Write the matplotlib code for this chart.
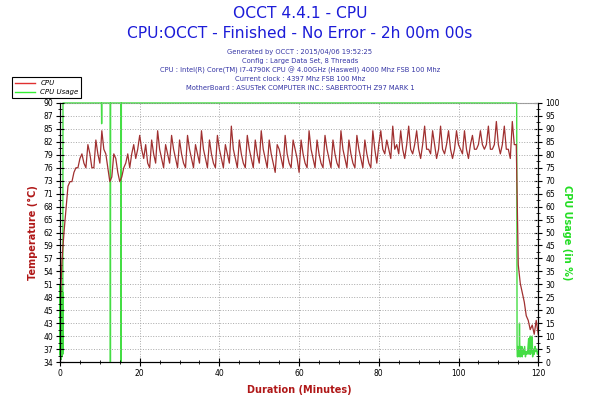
import numpy as np
import matplotlib
matplotlib.use("Agg")
import matplotlib.pyplot as plt
from matplotlib.lines import Line2D
from matplotlib.ticker import MultipleLocator, AutoMinorLocator

# temperature, one reading every half minute (0 .. 120 min)
temp_c = [
    45, 56, 62, 67, 72, 73, 73, 75, 76, 76, 78, 79, 77, 76, 81, 79, 76, 76, 82, 79,
    77, 84, 80, 79, 76, 73, 74, 79, 78, 75, 73, 74, 76, 77, 79, 76, 79, 81, 78, 80,
    83, 80, 78, 81, 77, 76, 82, 79, 77, 84, 80, 78, 76, 81, 79, 77, 83, 80, 78, 76,
    82, 79, 77, 76, 83, 80, 78, 76, 81, 79, 77, 84, 80, 78, 76, 82, 79, 77, 76, 83,
    80, 78, 76, 81, 79, 77, 85, 80, 78, 76, 82, 79, 77, 76, 83, 80, 78, 76, 82, 79,
    77, 84, 80, 78, 76, 82, 79, 77, 75, 81, 80, 78, 76, 83, 79, 77, 76, 82, 80, 78,
    75, 82, 79, 77, 76, 84, 80, 78, 76, 82, 79, 77, 76, 83, 80, 78, 76, 82, 79, 77,
    76, 84, 80, 78, 76, 82, 79, 77, 76, 83, 80, 78, 76, 82, 79, 77, 76, 84, 80, 77,
    81, 84, 80, 79, 82, 80, 78, 85, 80, 81, 79, 84, 80, 78, 81, 85, 80, 79, 81, 84,
    80, 78, 81, 85, 80, 80, 79, 84, 81, 78, 80, 85, 80, 79, 81, 84, 80, 78, 80, 84,
    81, 80, 79, 84, 80, 78, 81, 83, 80, 80, 81, 84, 81, 80, 81, 85, 80, 80, 81, 86,
    81, 79, 81, 85, 80, 80, 78, 86, 81, 81, 55, 51, 49, 47, 44, 43, 41, 42, 40, 43,
    40,
]
temp_t = np.arange(len(temp_c)) * 0.5

# cpu usage, (minute, percent)
usage_t = [0, 0.05, 0.1, 0.15, 0.2, 0.25, 0.3, 0.35, 0.4, 0.45, 0.5, 0.55, 0.6, 0.65, 0.7, 0.75,
           10.4, 10.45, 10.5, 12.6, 12.65, 12.7, 15.3, 15.35, 15.4, 114.6, 114.7,
           114.8, 114.9, 115.0, 115.1, 115.2, 115.3, 115.4, 115.5, 115.6, 115.7, 115.8, 115.9,
           116.0, 116.2, 116.4, 116.6, 116.8, 117.0, 117.2, 117.4, 117.6, 117.7, 117.8,
           118.0, 118.1, 118.3, 118.5, 118.6, 118.8, 119.0, 119.2, 119.4, 119.6, 119.8, 120.0]
usage_pct = [3, 30, 2, 26, 4, 29, 1, 24, 5, 28, 2, 25, 4, 27, 3, 100,
             100, 92, 100, 100, 0, 100, 100, 0, 100, 100, 5,
             2, 6, 3, 5, 2, 15, 3, 6, 2, 4, 3, 6,
             2, 5, 3, 6, 2, 4, 3, 5, 9, 3, 4,
             10, 3, 6, 10, 2, 5, 3, 6, 4, 5, 3, 4]

temp_ticklabels = ['34', '37', '40', '43', '45', '48', '51', '54', '57', '59', '62',
                   '65', '68', '71', '73', '76', '79', '82', '85', '87', '90']

info_lines = [
    "Generated by OCCT : 2015/04/06 19:52:25",
    "Config : Large Data Set, 8 Threads",
    "CPU : Intel(R) Core(TM) i7-4790K CPU @ 4.00GHz (Haswell) 4000 Mhz FSB 100 Mhz",
    "Current clock : 4397 Mhz FSB 100 Mhz",
    "MotherBoard : ASUSTeK COMPUTER INC.: SABERTOOTH Z97 MARK 1",
]

red = '#a03030'
green = '#44dd44'
dark_red = '#b01818'

fig = plt.figure(figsize=(6, 4), dpi=100)
ax = fig.add_axes([0.1, 0.095, 0.797, 0.6475])
ax2 = ax.twinx()

ax2.plot(usage_t, usage_pct, color=green, lw=1.0, clip_on=False, zorder=3)
ax.plot(temp_t, temp_c, color=red, lw=0.9)
ax.set_zorder(ax2.get_zorder() + 1)
ax.patch.set_visible(False)
ax2.set_facecolor('#fdf8ea')

ax.set_xlim(0, 120)
ax.set_ylim(34, 90)
ax2.set_ylim(0, 100)

ax.set_yticks(np.linspace(34, 90, 21))
ax.set_yticklabels(temp_ticklabels)
ax.yaxis.set_minor_locator(AutoMinorLocator(2))
ax.xaxis.set_major_locator(MultipleLocator(20))
ax.xaxis.set_minor_locator(MultipleLocator(5))
ax2.yaxis.set_major_locator(MultipleLocator(5))
ax2.yaxis.set_minor_locator(MultipleLocator(2.5))

for a in (ax, ax2):
    a.tick_params(which='major', direction='inout', length=6, width=0.8, labelsize=5.5, pad=2)
    a.tick_params(which='minor', direction='inout', length=3, width=0.6)
ax.grid(True, which='major', linestyle=':', color='#a8a8a8', lw=0.7)

ax.spines['top'].set_visible(False)
ax2.spines['top'].set_color('#999999')

ax.set_xlabel('Duration (Minutes)', color=dark_red, fontsize=7, fontweight='bold', labelpad=5)
ax.set_ylabel('Temperature (°C)', color=dark_red, fontsize=7, fontweight='bold', labelpad=4)
ax2.set_ylabel('CPU Usage (in %)', color='#22dd22', fontsize=7, fontweight='bold',
               rotation=270, labelpad=9)

fig.text(0.5, 0.965, 'OCCT 4.4.1 - CPU', ha='center', va='center', color='#1c1cd8', fontsize=11.2)
fig.text(0.5, 0.915, 'CPU:OCCT - Finished - No Error - 2h 00m 00s', ha='center', va='center',
         color='#1c1cd8', fontsize=11.2)
for i, line in enumerate(info_lines):
    fig.text(0.5, 0.87 - i * 0.0225, line, ha='center', va='center', color='#3535a5', fontsize=4.9)

handles = [Line2D([], [], color='#e03030', lw=1), Line2D([], [], color='#33ee33', lw=1)]
leg = fig.legend(handles, ['CPU', 'CPU Usage'], loc='upper left', bbox_to_anchor=(0.015, 0.815),
                 prop={'size': 5, 'style': 'italic'}, fancybox=False, edgecolor='black',
                 framealpha=1, borderpad=0.4, handlelength=2.8, labelspacing=0.45)
leg.get_frame().set_linewidth(0.8)

fig.savefig('out.png', dpi=100)
